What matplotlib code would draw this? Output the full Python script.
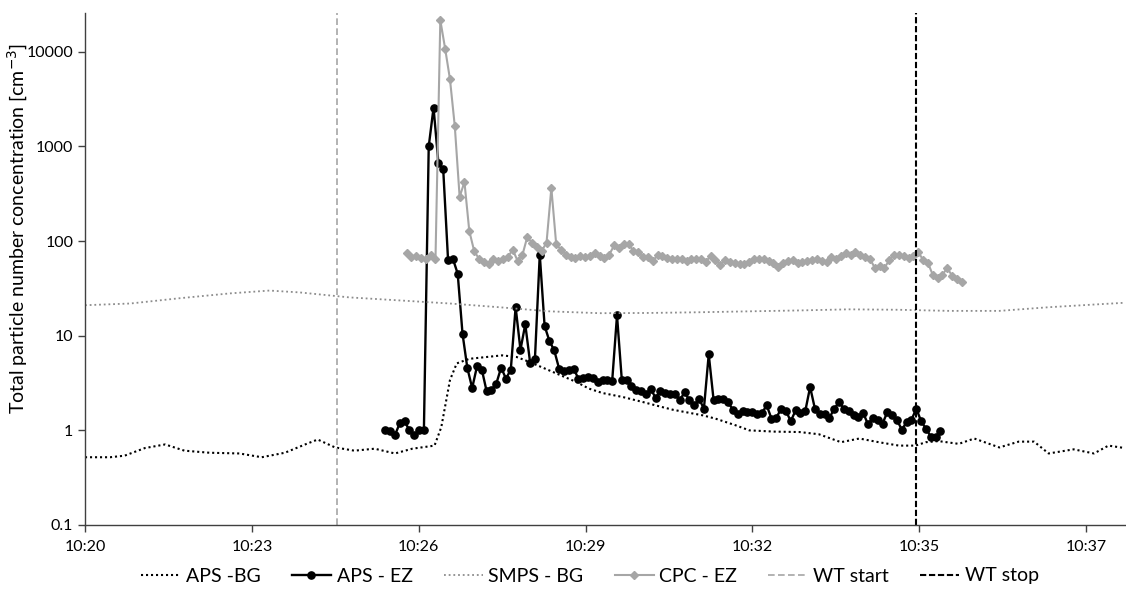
import numpy as np
import matplotlib
matplotlib.use("Agg")
import matplotlib.pyplot as plt
from matplotlib.ticker import FixedLocator, FuncFormatter, NullLocator

plt.rcParams["font.family"] = ["Lato", "DejaVu Sans"]

# --- Background series (time, value) ---
aps_bg_time = [
    "10:20:39", "10:21:05", "10:21:20", "10:21:41", "10:22:02", "10:22:22", "10:22:48",
    "10:23:19", "10:23:42", "10:24:06", "10:24:27", "10:24:40", "10:24:58", "10:25:18",
    "10:25:39", "10:26:00", "10:26:18", "10:26:41", "10:26:48", "10:26:57", "10:27:04",
    "10:27:17", "10:27:51", "10:28:06", "10:28:19", "10:28:47", "10:29:08", "10:29:21",
    "10:29:35", "10:29:56", "10:30:17", "10:30:37", "10:30:48", "10:31:19", "10:31:32",
    "10:31:53", "10:32:07", "10:32:33", "10:32:59", "10:33:19", "10:33:42", "10:34:01",
    "10:34:21", "10:34:42", "10:34:59", "10:35:10", "10:35:23", "10:35:44", "10:36:00",
    "10:36:26", "10:36:46", "10:37:02", "10:37:17", "10:37:43", "10:38:04", "10:38:19",
    "10:38:36",
]
aps_bg = [
    0.52, 0.52, 0.54, 0.65, 0.71, 0.61, 0.58,
    0.57, 0.52, 0.58, 0.71, 0.80, 0.66, 0.61,
    0.64, 0.57, 0.64, 0.69, 1.08, 3.4, 5.1,
    5.7, 6.2, 5.96, 5.3, 4.0, 3.24, 2.76,
    2.48, 2.25, 1.99, 1.76, 1.65, 1.44, 1.33,
    1.13, 1.0, 0.97, 0.96, 0.91, 0.75, 0.82,
    0.75, 0.69, 0.69, 0.75, 0.77, 0.72, 0.82,
    0.66, 0.76, 0.76, 0.57, 0.63, 0.57, 0.69,
    0.65,
]

smps_bg_time = [
    "10:20:39", "10:21:26", "10:22:17", "10:23:09", "10:23:50", "10:24:21", "10:25:13",
    "10:26:05", "10:26:57", "10:27:48", "10:28:40", "10:29:32", "10:30:23", "10:31:15",
    "10:32:07", "10:32:59", "10:33:50", "10:34:42", "10:35:34", "10:36:26", "10:37:17",
    "10:38:09", "10:38:36",
]
smps_bg = [
    21.0, 21.9, 24.9, 28.0, 30.0, 28.7, 25.4,
    23.6, 21.9, 20.0, 18.1, 17.3, 17.4, 17.7,
    18.1, 18.5, 19.0, 18.8, 18.3, 18.3, 20.0,
    21.5, 22.3,
]

# --- Exposure zone series, 5 s sampling ---
aps_ez_start = "10:25:50"
aps_ez = [
    1.0, 0.98, 0.89, 1.19, 1.25, 1.0, 0.89, 1.0, 1.0, 1000, 2570,
    670, 574, 63.7, 65, 45.3, 10.5,
    4.56, 2.8, 4.75, 4.38, 2.58, 2.69, 3.12, 4.6, 3.52, 4.38,
    20.1, 7.1, 13.2, 5.2, 5.7, 72,
    12.7, 8.8, 7.0, 4.5, 4.24, 4.3, 4.5, 3.52, 3.6, 3.66, 3.6, 3.24, 3.38, 3.38, 3.32,
    16.4, 3.38, 3.43, 2.92, 2.65,
    2.6, 2.42, 2.72, 2.21, 2.6, 2.5, 2.4, 2.4, 2.07, 2.54, 2.07, 1.84, 2.16, 1.69,
    6.36, 2.11, 2.14, 2.13, 1.99, 1.65, 1.5, 1.6, 1.56, 1.56, 1.5, 1.52, 1.84, 1.33,
    1.36, 1.69, 1.6, 1.25, 1.63, 1.52, 1.6, 2.87, 1.69, 1.5, 1.48, 1.36, 1.69, 1.99,
    1.69, 1.6, 1.44, 1.38, 1.52, 1.16, 1.36, 1.28, 1.18, 1.56, 1.44, 1.28, 1.02, 1.22,
    1.3, 1.69, 1.25, 1.04, 0.86, 0.86, 0.98,
]

cpc_ez_start = "10:26:12"
cpc_ez = [
    74, 68, 70, 67, 65, 72, 65, 21600, 10800, 5130, 1635, 293, 421, 128, 79,
    65, 60, 57, 64, 61, 65, 68, 81, 62, 71, 110, 96, 87, 79, 96, 364, 93,
    81, 72, 68, 67, 70, 68, 70, 74, 70, 67, 72, 90, 85, 94, 94, 78, 76,
    68, 68, 61, 71, 70, 67, 65, 64, 64, 61, 64, 65, 64, 60, 70, 63, 56,
    63, 60, 59, 57, 57, 60, 65, 64, 65, 61, 58, 53, 58, 61, 63, 59, 60,
    61, 63, 65, 61, 60, 68, 65, 70, 74, 71, 77, 72, 68, 65, 52, 55, 52,
    63, 72, 72, 70, 67, 70, 77, 63, 59, 44, 41, 44, 52, 43, 40, 37,
]

wt_start = "10:25:00"
wt_stop = "10:35:00"

axis_start = "10:20:39"
axis_end = "10:38:36"
tick_step = 172.8  # seconds between major ticks (0.002 day)
y_ticks = [0.1, 1, 10, 100, 1000, 10000]


def to_sec(s):
    h, m, sec = (int(v) for v in s.split(":"))
    return h * 3600 + m * 60 + sec


def hhmm(x, pos):
    s = int(x)
    return f"{s // 3600}:{(s % 3600) // 60:02d}"


aps_bg_t = [to_sec(t) for t in aps_bg_time]
smps_bg_t = [to_sec(t) for t in smps_bg_time]
aps_ez_t = to_sec(aps_ez_start) + 5 * np.arange(len(aps_ez))
cpc_ez_t = to_sec(cpc_ez_start) + 5 * np.arange(len(cpc_ez))

fig = plt.figure(figsize=(11.26, 5.89), dpi=100)
ax = fig.add_axes([85 / 1126, 64 / 589, 1 - 85 / 1126 - 0.001, 1 - 13 / 589 - 64 / 589])

dark = "#000000"
grey = "#a6a6a6"

ax.plot(aps_bg_t, aps_bg, color=dark, lw=1.5, linestyle=(0, (1, 1.4)), label="APS -BG")
ax.plot(aps_ez_t, aps_ez, color=dark, lw=1.7, marker="o", markersize=5.2,
        label="APS - EZ")
ax.plot(smps_bg_t, smps_bg, color="#8c8c8c", lw=1.3, linestyle=(0, (1, 1.6)),
        label="SMPS - BG")
ax.plot(cpc_ez_t, cpc_ez, color=grey, lw=1.5, marker="D", markersize=3.6,
        label="CPC - EZ")
ax.axvline(to_sec(wt_start), color=grey, lw=1.2, linestyle=(0, (4, 2)), label="WT start")
ax.axvline(to_sec(wt_stop), color=dark, lw=1.5, linestyle=(0, (3, 1.3)), label="WT stop")

# --- Axes styling ---
ax.set_yscale("log")
ax.set_ylim(0.1, 10 ** 4.41)
ax.yaxis.set_major_locator(FixedLocator(y_ticks))
ax.yaxis.set_minor_locator(NullLocator())
ax.yaxis.set_major_formatter(FuncFormatter(lambda v, p: f"{v:g}"))

x0, x1 = to_sec(axis_start), to_sec(axis_end)
ax.set_xlim(x0, x1)
ax.xaxis.set_major_locator(FixedLocator(np.arange(x0, x1, tick_step)))
ax.xaxis.set_major_formatter(FuncFormatter(hhmm))

for side in ["top", "right"]:
    ax.spines[side].set_visible(False)
for side in ["left", "bottom"]:
    ax.spines[side].set_color("#404040")
    ax.spines[side].set_linewidth(1.0)
ax.tick_params(axis="both", direction="out", length=5, width=1.0, color="#404040",
               labelsize=11.5, labelcolor="black")
ax.tick_params(axis="x", pad=6)

ax.set_ylabel("Total particle number concentration [cm$^{-3}$]", fontsize=14)
ax.yaxis.set_label_coords(-0.053, 0.58)

fig.legend(loc="center", bbox_to_anchor=(590 / 1126, 1 - 576 / 589), ncol=6,
           frameon=False, fontsize=14, handlelength=2.0, handletextpad=0.3,
           columnspacing=1.6)

plt.savefig("out.png", dpi=100)
plt.close()
